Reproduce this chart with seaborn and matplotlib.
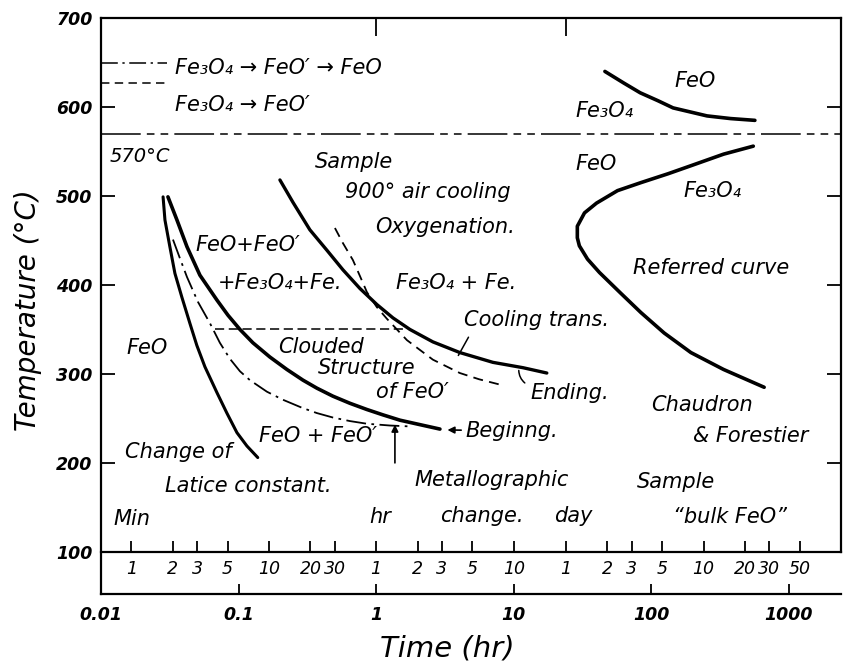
import matplotlib
matplotlib.use("Agg")
import matplotlib.pyplot as plt
import seaborn as sns
from matplotlib.ticker import FixedLocator, NullLocator

# curves: time (hr) and temperature (deg C)
lattice_t = [0.0283, 0.0292, 0.0317, 0.0345, 0.0388, 0.0443, 0.0498, 0.057, 0.0697,
             0.0823, 0.0974, 0.1151, 0.138]
lattice_T = [499, 473, 443, 413, 386, 357, 332, 308, 279, 256, 234, 219, 206]

begin_t = [0.0307, 0.0357, 0.0422, 0.0524, 0.0697, 0.0838, 0.1024, 0.1272, 0.169,
           0.2247, 0.294, 0.371, 0.485, 0.645, 0.857, 1.12, 1.49, 2.08, 2.91]
begin_T = [499, 473, 443, 411, 383, 366, 350, 335, 319, 305, 293, 284, 275, 267,
           260, 254, 248, 243, 238]

dashdot_t = [0.0334, 0.0375, 0.0422, 0.0507, 0.062, 0.0732, 0.0866, 0.1024, 0.121,
             0.1609, 0.210, 0.2889, 0.371, 0.485, 0.645, 0.857, 1.26, 1.76]
dashdot_T = [451, 430, 409, 381, 357, 335, 317, 303, 293, 280, 271, 262, 256, 251,
             247, 244, 242, 241]

end_t = [0.2, 0.2484, 0.33, 0.439, 0.574, 0.763, 1.013, 1.325, 1.76, 2.587, 4.06,
         7.06, 11.67, 17.4]
end_T = [518, 493, 462, 439, 417, 396, 378, 363, 350, 336, 324, 313, 307, 301]

cooling_t = [0.502, 0.574, 0.678, 0.763, 0.857, 1.013, 1.198, 1.674, 2.08, 2.587,
             4.06, 5.6, 7.94]
cooling_T = [464, 447, 428, 410, 392, 375, 362, 338, 327, 316, 301, 294, 288]

clouded_t = [0.067, 1.6]
clouded_T = [350, 350]

# Chaudron & Forestier referred curve
ref_upper_t = [46, 63, 83, 112, 144, 254, 377, 566]
ref_upper_T = [640, 627, 616, 607, 599, 590, 587, 585]
ref_lower_t = [551, 335, 194, 132.5, 84, 56.8, 40, 32.7, 29, 29, 30, 34.4, 42, 59.7,
               84, 124, 194, 335, 661]
ref_lower_T = [556, 547, 534, 525, 515, 506, 492, 481, 466, 453, 444, 429, 414, 391,
               369, 346, 324, 305, 285]

eutectoid_t = [0.01, 2400]
eutectoid_T = [570, 570]
key_t = [0.01, 0.03]
key1_T = [650, 650]
key2_T = [627, 627]

# axis scales
temp_ticks = [100, 200, 300, 400, 500, 600, 700]
hr_ticks = [0.01, 0.1, 1, 10, 100, 1000]
hr_labels = ["0.01", "0.1", "1", "10", "100", "1000"]
minutes = [1, 2, 3, 5, 10, 20, 30]
hours = [1, 2, 3, 5, 10]
days = [1, 2, 3, 5, 10, 20, 30, 50]

sns.set_theme(style="white")
plt.rcParams["font.family"] = ["DejaVu Sans"]
plt.rcParams["font.style"] = "italic"
plt.rcParams["text.color"] = "black"

fig = plt.figure(figsize=(8.48, 6.68), dpi=100)
ax = fig.add_axes([0.119, 0.111, 0.873, 0.862])
ax.set_xscale("log")
ax.set_xlim(0.01, 2400)
ax.set_ylim(52.8, 700)


def curve(t, T, lw, ls="-"):
    sns.lineplot(x=t, y=T, ax=ax, sort=False, estimator=None, color="black",
                 lw=lw, linestyle=ls, legend=False)


curve(lattice_t, lattice_T, 2.2)
curve(begin_t, begin_T, 2.6)
curve(dashdot_t, dashdot_T, 1.3, (0, (11, 3, 1.5, 3)))
curve(end_t, end_T, 2.4)
curve(cooling_t, cooling_T, 1.3, (0, (5.5, 3.5)))
curve(clouded_t, clouded_T, 1.1, (0, (6, 3)))
curve(ref_upper_t, ref_upper_T, 2.6)
curve(ref_lower_t, ref_lower_T, 2.6)
curve(eutectoid_t, eutectoid_T, 1.1, (0, (26, 4, 5, 4, 5, 4)))
curve(key_t, key1_T, 1.1, (0, (11, 3, 1.5, 3)))
curve(key_t, key2_T, 1.1, (0, (5.5, 3.5)))

fs = 15
txt = dict(fontsize=fs, color="black")
ax.text(0.0345, 644, "Fe₃O₄ → FeO′ → FeO", ha="left", va="center", **txt)
ax.text(0.0345, 602, "Fe₃O₄ → FeO′", ha="left", va="center", **txt)
ax.text(0.0116, 544, "570°C", ha="left", va="center", fontsize=14, color="black")
ax.text(0.359, 538, "Sample", ha="left", va="center", **txt)
ax.text(0.593, 504, "900° air cooling", ha="left", va="center", **txt)
ax.text(0.979, 465, "Oxygenation.", ha="left", va="center", **txt)
ax.text(0.117, 445, "FeO+FeO′", ha="center", va="center", **txt)
ax.text(0.2, 402, "+Fe₃O₄+Fe.", ha="center", va="center", **txt)
ax.text(3.8, 402, "Fe₃O₄ + Fe.", ha="center", va="center", **txt)
ax.text(14.7, 361, "Cooling trans.", ha="center", va="center", **txt)
ax.text(0.0216, 329, "FeO", ha="center", va="center", **txt)
ax.text(0.397, 330, "Clouded", ha="center", va="center", **txt)
ax.text(0.857, 307, "Structure", ha="center", va="center", **txt)
ax.text(1.82, 280, "of FeO′", ha="center", va="center", **txt)
ax.text(25.6, 279, "Ending.", ha="center", va="center", **txt)
ax.text(0.378, 230, "FeO + FeO′", ha="center", va="center", **txt)
ax.text(0.0363, 212, "Change of", ha="center", va="center", **txt)
ax.text(0.117, 174, "Latice constant.", ha="center", va="center", **txt)
ax.text(6.95, 181, "Metallographic", ha="center", va="center", **txt)
ax.text(5.87, 140, "change.", ha="center", va="center", **txt)
ax.text(0.0168, 137, "Min", ha="center", va="center", **txt)
ax.text(1.066, 139, "hr", ha="center", va="center", **txt)
ax.text(26.9, 140, "day", ha="center", va="center", **txt)
ax.text(207, 629, "FeO", ha="center", va="center", **txt)
ax.text(46, 596, "Fe₃O₄", ha="center", va="center", **txt)
ax.text(40, 536, "FeO", ha="center", va="center", **txt)
ax.text(276, 506, "Fe₃O₄", ha="center", va="center", **txt)
ax.text(270, 419, "Referred curve", ha="center", va="center", **txt)
ax.text(233, 265, "Chaudron", ha="center", va="center", **txt)
ax.text(530, 230, "& Forestier", ha="center", va="center", **txt)
ax.text(151, 178, "Sample", ha="center", va="center", **txt)
ax.text(372, 139, "“bulk FeO”", ha="center", va="center", **txt)

arrow = dict(arrowstyle="-|>", color="black", lw=1.2, mutation_scale=10)
ax.annotate("Beginng.", xy=(3.3, 237), xytext=(4.49, 236), ha="left", va="center",
            arrowprops=dict(arrow, shrinkA=1, shrinkB=0), **txt)
ax.annotate("", xy=(1.37, 243), xytext=(1.37, 200),
            arrowprops=dict(arrow, shrinkA=0, shrinkB=0))
ax.annotate("", xy=(3.87, 318), xytext=(4.8, 344),
            arrowprops=dict(arrowstyle="-", color="black", lw=1.1))
ax.annotate("", xy=(12.5, 288), xytext=(10.9, 307),
            arrowprops=dict(arrowstyle="-", color="black", lw=1.1,
                            connectionstyle="arc3,rad=0.3"))

# frame
for side in ["left", "bottom", "top", "right"]:
    ax.spines[side].set_color("black")
    ax.spines[side].set_linewidth(1.6)
ax.spines["right"].set_bounds(100, 700)
ax.grid(False)

ax.set_xticks(hr_ticks, labels=hr_labels)
ax.xaxis.set_minor_locator(NullLocator())
ax.tick_params(axis="x", which="major", direction="in", length=7, width=1.3,
               labelsize=12.5, pad=9, colors="black", bottom=True, top=False)
ax.set_yticks(temp_ticks)
ax.tick_params(axis="y", direction="in", length=10, width=1.3, left=True,
               right=True, labelsize=12.5, pad=6, colors="black")
for lab in ax.get_xticklabels() + ax.get_yticklabels():
    lab.set_fontweight("bold")

# minute / hour / day scale along the 100 C line
scale_ticks = [m / 60 for m in minutes] + hours + [d * 24 for d in days]
scale_labels = [str(v) for v in minutes + hours + days]
pos = (100 - 52.8) / (700 - 52.8)
sec = ax.secondary_xaxis(pos)
sec.set_ticks(scale_ticks, labels=scale_labels)
sec.xaxis.set_minor_locator(FixedLocator([1.0]))
sec.tick_params(axis="x", which="major", direction="in", length=8, width=1.3,
                labelsize=12.5, pad=6, colors="black")
sec.tick_params(axis="x", which="minor", direction="in", length=17, width=1.3)
for side in ["top", "bottom"]:
    sec.spines[side].set_linewidth(1.6)
    sec.spines[side].set_color("black")

top = ax.secondary_xaxis("top")
top.set_ticks([1, 24])
top.xaxis.set_minor_locator(NullLocator())
top.tick_params(axis="x", direction="in", length=13, width=1.3, labeltop=False,
                colors="black")

fig.text(28 / 848, 1 - 310 / 668, "Temperature (°C)", rotation=90, fontsize=20,
         ha="center", va="center", color="black")
fig.text(447 / 848, 1 - 648 / 668, "Time (hr)", fontsize=21, ha="center",
         va="center", color="black")

fig.savefig("out.png", dpi=100, facecolor="white")
